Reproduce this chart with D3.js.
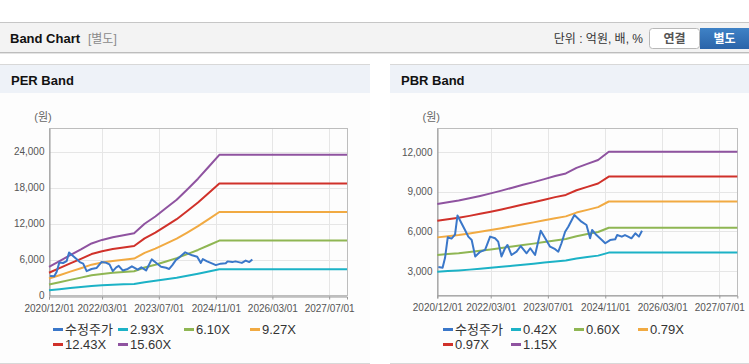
<!DOCTYPE html>
<html><head><meta charset="utf-8">
<script src="https://cdn.jsdelivr.net/npm/d3@7"></script>
<style>
html,body{margin:0;padding:0;background:#fff;}
svg{display:block;font-family:"Liberation Sans",Arial,"Noto Sans CJK KR",sans-serif;}
</style></head><body>
<svg id="c" width="749" height="364"></svg>
<script>
// ---- data ----
const bandDates = ["2020-12-01","2021-03-01","2021-06-01","2021-09-01","2021-12-01","2022-03-01","2022-06-01","2022-09-01","2022-12-01","2023-03-01","2023-06-01","2023-09-01","2023-12-01","2024-03-01","2024-06-01","2024-09-01","2024-12-01","2027-12-01"];
const perNames = ["2.93X","6.10X","9.27X","12.43X","15.60X"];
const per293  = [902,1081,1269,1447,1635,1746,1831,1890,1954,2253,2479,2742,3006,3326,3663,4038,4410,4410];
const per610  = [1879,2251,2641,3013,3404,3636,3813,3935,4069,4691,5161,5710,6259,6924,7625,8406,9181,9181];
const per927  = [2855,3421,4014,4579,5173,5525,5794,5979,6183,7129,7842,8677,9511,10521,11588,12774,13951,13951];
const per1243 = [3828,4587,5382,6140,6936,7408,7769,8017,8291,9559,10516,11634,12753,14108,15538,17129,18707,18707];
const per1560 = [4805,5756,6755,7706,8705,9298,9750,10062,10405,11996,13198,14602,16006,17706,19500,21497,23478,23478];
const pbrNames = ["0.42X","0.60X","0.79X","0.97X","1.15X"];
const pbr042 = [2947,2995,3042,3104,3170,3239,3316,3397,3477,3550,3634,3718,3791,3944,4054,4163,4390,4390];
const pbr060 = [4210,4278,4346,4435,4529,4628,4738,4852,4967,5071,5191,5311,5416,5635,5791,5948,6271,6271];
const pbr079 = [5543,5633,5722,5839,5963,6093,6238,6389,6540,6677,6835,6993,7131,7419,7625,7831,8257,8257];
const pbr097 = [6806,6916,7026,7169,7322,7482,7659,7844,8030,8198,8392,8586,8755,9109,9362,9616,10138,10138];
const pbr115 = [8070,8200,8329,8500,8680,8870,9080,9300,9520,9720,9950,10180,10380,10800,11100,11400,12020,12020];
const priceName = "수정주가";
const priceDates = ["2020-12-10","2021-01-15","2021-02-05","2021-02-28","2021-04-01","2021-05-01","2021-05-22","2021-07-25","2021-08-22","2021-09-20","2021-10-20","2021-12-01","2022-01-12","2022-02-24","2022-04-07","2022-05-04","2022-06-01","2022-07-01","2022-07-22","2022-08-25","2022-10-07","2022-11-12","2023-01-01","2023-02-01","2023-03-14","2023-05-01","2023-06-07","2023-07-20","2023-09-01","2023-09-28","2023-10-25","2023-11-25","2023-12-22","2024-02-12","2024-04-12","2024-05-25","2024-06-25","2024-07-12","2024-08-18","2024-10-03","2024-11-01","2024-12-12","2025-01-25","2025-02-10","2025-03-22","2025-04-18","2025-05-15","2025-06-12","2025-07-15","2025-08-15","2025-09-10"];
const priceValues = [3300,3250,4000,5550,5450,5750,7200,6100,5600,5350,4100,4450,4600,5600,5480,5220,4100,4720,4970,4210,4460,4890,4340,4720,4210,6050,5500,4840,4650,4460,5100,5970,6350,7230,6730,6480,5470,6100,5720,5340,5100,5340,5400,5720,5600,5720,5600,5470,5850,5600,6050];
const tickDates = ["2020-12-01","2022-03-01","2023-07-01","2024-11-01","2026-03-01","2027-07-01"];
const xDomain = ["2020-12-01","2027-12-01"];
const perTicks = [0,6000,12000,18000,24000];
const pbrTicks = [3000,6000,9000,12000];
const perDomain = [0,27900];
const pbrDomain = [1162,13793];

const bandColors = ["#1cb2c6","#8fb653","#f1aa42","#d0312a","#8f53a0"];
const priceColor = "#3a77c9";

const parse = d3.timeParse("%Y-%m-%d");
const fmtDate = d3.timeFormat("%Y/%m/%d");
const svg = d3.select("#c");

// ---- top header bar ----
svg.append("rect").attr("x",0).attr("y",22).attr("width",749).attr("height",31).attr("fill","#f3f3f3");
svg.append("line").attr("x1",0).attr("x2",749).attr("y1",22.5).attr("y2",22.5).attr("stroke","#c6c6c6");
svg.append("line").attr("x1",0).attr("x2",749).attr("y1",52.5).attr("y2",52.5).attr("stroke","#bdbdbd");
svg.append("line").attr("x1",0).attr("x2",749).attr("y1",53.5).attr("y2",53.5).attr("stroke","#e4e4e4");
svg.append("text").attr("x",10).attr("y",43).attr("font-size",13).attr("font-weight","bold").attr("fill","#111").text("Band Chart");
svg.append("text").attr("x",88).attr("y",43).attr("font-size",12).attr("fill","#8a8a8a").text("[별도]");
svg.append("text").attr("x",643).attr("y",43).attr("text-anchor","end").attr("font-size",12).attr("fill","#333").text("단위 : 억원, 배, %");
svg.append("rect").attr("x",649.5).attr("y",28.5).attr("width",50).attr("height",20).attr("rx",3).attr("fill","#fff").attr("stroke","#b8b8b8");
svg.append("text").attr("x",674.5).attr("y",43).attr("text-anchor","middle").attr("font-size",12).attr("font-weight","bold").attr("fill","#555").text("연결");
const grad = svg.append("defs").append("linearGradient").attr("id","bg").attr("x1",0).attr("y1",0).attr("x2",0).attr("y2",1);
grad.append("stop").attr("offset","0").attr("stop-color","#3f82c6");
grad.append("stop").attr("offset","1").attr("stop-color","#2a64a9");
svg.append("rect").attr("x",700).attr("y",28).attr("width",49).attr("height",21).attr("fill","url(#bg)");
svg.append("text").attr("x",724.5).attr("y",43).attr("text-anchor","middle").attr("font-size",12).attr("font-weight","bold").attr("fill","#fff").text("별도");

function drawPanel(p) {
  const g = svg.append("g");
  g.append("rect").attr("x",p.px).attr("y",93).attr("width",p.pw).attr("height",270).attr("fill","#fdfdfd");
  g.append("rect").attr("x",p.px).attr("y",64).attr("width",p.pw).attr("height",29).attr("fill","#eef2f8");
  g.append("line").attr("x1",p.px).attr("x2",p.px+p.pw).attr("y1",64.5).attr("y2",64.5).attr("stroke","#d8d8d8");
  g.append("line").attr("x1",p.px).attr("x2",p.px+p.pw).attr("y1",363.5).attr("y2",363.5).attr("stroke","#d8d8d8");
  g.append("text").attr("x",p.px+11).attr("y",84.5).attr("font-size",13).attr("font-weight","bold").attr("fill","#111").text(p.title);

  const x = d3.scaleTime().domain(xDomain.map(parse)).range([p.x0,p.x1]);
  const y = d3.scaleLinear().domain(p.domain).range([p.y1,p.y0]);

  g.append("text").attr("x",p.x0-6).attr("y",121).attr("text-anchor","middle").attr("font-size",11).attr("fill","#666").text("(원)");

  g.append("g").selectAll("line").data(p.ticks).join("line")
    .attr("x1",p.x0).attr("x2",p.x1).attr("y1",d=>Math.round(y(d))+0.5).attr("y2",d=>Math.round(y(d))+0.5)
    .attr("stroke","#e6e6e6");
  g.append("g").selectAll("line").data(tickDates.map(parse)).join("line")
    .attr("y1",p.y0).attr("y2",p.y1).attr("x1",d=>Math.round(x(d))+0.5).attr("x2",d=>Math.round(x(d))+0.5)
    .attr("stroke","#e6e6e6");
  g.append("rect").attr("x",Math.round(p.x0)+0.5).attr("y",Math.round(p.y0)+0.5)
    .attr("width",Math.round(p.x1-p.x0)).attr("height",Math.round(p.y1-p.y0))
    .attr("fill","none").attr("stroke","#bdbdbd");

  const xa = g.append("g").attr("transform",`translate(0,${Math.round(p.y1)+0.5})`)
    .call(d3.axisBottom(x).tickValues(tickDates.map(parse)).tickFormat(fmtDate).tickSize(3).tickPadding(5));
  xa.select(".domain").attr("stroke","#999");
  xa.selectAll(".tick line").attr("stroke","#999");
  xa.selectAll("text").attr("font-size",10).attr("fill","#555").attr("font-family","Liberation Sans, Arial, sans-serif");
  const ya = g.append("g").attr("transform",`translate(${Math.round(p.x0)+0.5},0)`)
    .call(d3.axisLeft(y).tickValues(p.ticks).tickFormat(d3.format(",")).tickSize(0).tickPadding(5));
  ya.select(".domain").attr("stroke","#999");
  ya.selectAll("text").attr("font-size",10).attr("fill","#555").attr("font-family","Liberation Sans, Arial, sans-serif");

  const line = d3.line().x(d=>x(d[0])).y(d=>y(d[1]));
  const bd = bandDates.map(parse);
  p.bands.forEach((vals,i)=>{
    g.append("path").datum(vals.map((v,j)=>[bd[j],v])).attr("d",line)
      .attr("fill","none").attr("stroke",bandColors[i]).attr("stroke-width",2).attr("stroke-linejoin","round");
  });
  g.append("path").datum(priceValues.map((v,j)=>[parse(priceDates[j]),v])).attr("d",line)
    .attr("fill","none").attr("stroke",priceColor).attr("stroke-width",2).attr("stroke-linejoin","round");

  const items = [{n:priceName,c:priceColor}].concat(p.names.map((n,i)=>({n:n,c:bandColors[i]})));
  items.forEach((it,i)=>{
    const col = i<4 ? i : i-4, row = i<4 ? 0 : 1;
    const lx = p.lx + p.cols[col], ly = 329.5 + row*15;
    g.append("line").attr("x1",lx).attr("x2",lx+10).attr("y1",ly).attr("y2",ly).attr("stroke",it.c).attr("stroke-width",3);
    g.append("text").attr("x",lx+12).attr("y",ly+4.5).attr("font-size",13).attr("fill","#333").text(it.n);
  });
}

drawPanel({title:"PER Band",px:0,pw:370,x0:49,x1:347,y0:128.3,y1:295.7,domain:perDomain,ticks:perTicks,
  bands:[per293,per610,per927,per1243,per1560],names:perNames,lx:53,cols:[0,65,131,197]});
drawPanel({title:"PBR Band",px:390,pw:359,x0:437.3,x1:737.3,y0:128.3,y1:295.3,domain:pbrDomain,ticks:pbrTicks,
  bands:[pbr042,pbr060,pbr079,pbr097,pbr115],names:pbrNames,lx:443,cols:[0,68,131,195]});
</script>
</body></html>
